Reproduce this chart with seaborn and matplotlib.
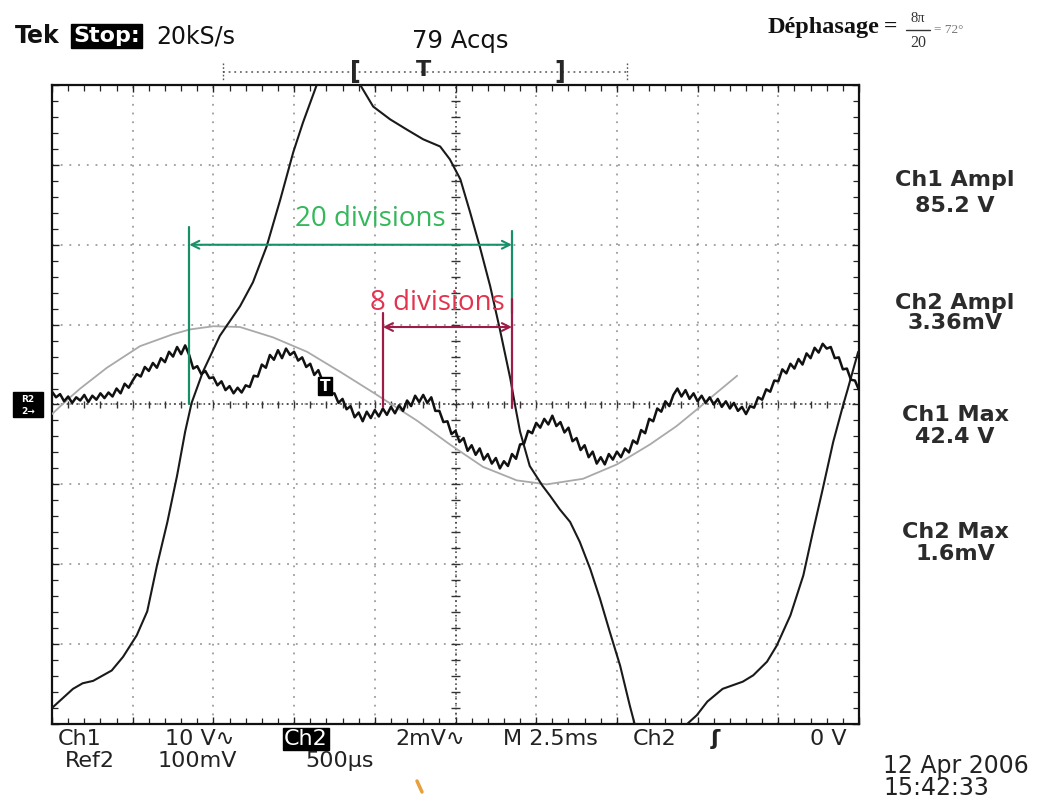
import numpy as np
import matplotlib
matplotlib.use("Agg")
import matplotlib.pyplot as plt
from matplotlib.patches import Rectangle
from matplotlib.lines import Line2D
import seaborn as sns

# Screen traces, in graticule divisions (x: 0..10 div, y: -4..+4 div around the centre line)
ch1_t = [0.01, 0.26, 0.38, 0.51, 0.74, 0.88, 1.05, 1.18, 1.30, 1.43, 1.55, 1.65, 1.73, 1.87,
         2.08, 2.33, 2.49, 2.66, 2.83, 2.99, 3.11, 3.28, 3.54, 3.82, 3.98, 4.19, 4.40, 4.60,
         4.81, 4.93, 5.06, 5.18, 5.30, 5.43, 5.55, 5.68, 5.74, 5.80, 5.92, 6.08, 6.17, 6.29,
         6.42, 6.54, 6.67, 6.79, 6.91, 7.04, 7.16, 7.22, 7.55, 7.87, 7.99, 8.12, 8.31, 8.56,
         8.69, 8.86, 8.98, 9.15, 9.31, 9.43, 9.55, 9.68, 9.80, 9.86, 9.99]
ch1_v = [-3.79, -3.56, -3.49, -3.46, -3.33, -3.16, -2.89, -2.59, -2.02, -1.47, -0.89, -0.34, 0.02,
         0.41, 0.86, 1.23, 1.53, 1.98, 2.57, 3.16, 3.53, 4.00, 4.50, 4.00, 3.73, 3.57, 3.44,
         3.32, 3.23, 3.07, 2.82, 2.41, 1.98, 1.48, 0.94, 0.32, -0.02, -0.34, -0.77, -1.02, -1.14,
         -1.31, -1.47, -1.72, -2.06, -2.43, -2.84, -3.27, -3.77, -4.00, -4.50, -4.00, -3.89,
         -3.72, -3.56, -3.47, -3.39, -3.22, -3.02, -2.64, -2.14, -1.59, -1.06, -0.47, -0.02,
         0.19, 0.66]

# Ch2 record: one sample every 0.05 div
ch2_t = np.round(np.arange(201) * 0.05, 2)
ch2_v = [0.16, 0.09, 0.13, 0.04, 0.10, 0.02, 0.09, 0.05, 0.12, 0.03, 0.11, 0.06, 0.14, 0.08, 0.15, 0.10, 0.20, 0.14, 0.26, 0.21,
         0.30, 0.38, 0.35, 0.47, 0.42, 0.52, 0.46, 0.58, 0.53, 0.66, 0.60, 0.72, 0.63, 0.74, 0.62, 0.45, 0.48, 0.38, 0.42, 0.33,
         0.34, 0.24, 0.29, 0.18, 0.23, 0.14, 0.21, 0.15, 0.24, 0.22, 0.36, 0.35, 0.50, 0.46, 0.62, 0.56, 0.68, 0.58, 0.70, 0.62,
         0.66, 0.55, 0.59, 0.47, 0.51, 0.37, 0.43, 0.30, 0.29, 0.13, 0.14, 0.02, 0.07, -0.06, -0.02, -0.16, -0.10, -0.21, -0.09, -0.17,
         -0.07, -0.15, -0.05, -0.13, -0.03, -0.11, -0.01, -0.08, 0.05, -0.02, 0.11, 0.03, 0.12, 0.02, 0.09, -0.08, -0.08, -0.22, -0.21, -0.37,
         -0.33, -0.47, -0.42, -0.58, -0.51, -0.63, -0.55, -0.69, -0.62, -0.74, -0.67, -0.80, -0.71, -0.77, -0.62, -0.68, -0.50, -0.49, -0.33, -0.36,
         -0.23, -0.29, -0.18, -0.25, -0.14, -0.27, -0.22, -0.35, -0.29, -0.46, -0.42, -0.57, -0.51, -0.66, -0.59, -0.74, -0.66, -0.75, -0.62, -0.69,
         -0.59, -0.66, -0.55, -0.60, -0.45, -0.49, -0.32, -0.36, -0.18, -0.21, -0.05, -0.09, 0.04, -0.02, 0.12, 0.20, 0.10, 0.18, 0.07, 0.14,
         0.04, 0.11, 0.02, 0.09, 0.00, 0.07, -0.03, 0.04, -0.05, 0.02, -0.08, -0.03, -0.12, -0.02, -0.04, 0.09, 0.06, 0.19, 0.16, 0.30,
         0.29, 0.44, 0.39, 0.51, 0.45, 0.57, 0.50, 0.64, 0.58, 0.71, 0.65, 0.76, 0.70, 0.72, 0.58, 0.59, 0.44, 0.45, 0.31, 0.30,
         0.18]

ref2_t = [0.00, 0.19, 0.35, 0.68, 1.09, 1.50, 1.71, 2.00, 2.33, 2.74, 3.16, 3.57, 3.98, 4.52,
          4.93, 5.34, 5.76, 6.13, 6.58, 7.00, 7.41, 7.74, 8.03, 8.12, 8.49]
ref2_v = [-0.12, 0.06, 0.20, 0.46, 0.73, 0.88, 0.94, 0.98, 0.97, 0.84, 0.66, 0.41, 0.15, -0.20,
          -0.50, -0.78, -0.95, -1.00, -0.93, -0.75, -0.50, -0.27, -0.03, 0.05, 0.36]

meas_names = ["Ch1 Ampl", "Ch2 Ampl", "Ch1 Max", "Ch2 Max"]
meas_values = ["85.2 V", "3.36mV", "42.4 V", "1.6mV"]

# Period / phase-shift markers (start, length in divisions)
period_start, period_len = 1.7, 4.0
shift_start, shift_len = 4.1, 1.6

W, H = 1046, 798
sns.set_theme(style="white")
plt.rcParams["font.family"] = ["DejaVu Sans"]

fig = plt.figure(figsize=(W / 100, H / 100), dpi=100)
fig.patch.set_facecolor("white")


def fx(px):
    return px / W


def fy(py):
    return 1 - py / H


ax = fig.add_axes([fx(52), fy(724), 807 / W, 639 / H])
ax.set_facecolor("white")

# Graticule
ax.set_xticks(np.arange(0, 11, 1))
ax.set_yticks(np.arange(-4, 5, 1))
ax.set_xticks(np.arange(0, 10.01, 0.2), minor=True)
ax.set_yticks(np.arange(-4, 4.01, 0.2), minor=True)
ax.tick_params(which="both", direction="in", top=True, right=True, bottom=True, left=True,
               labelbottom=False, labelleft=False, color="#222222")
ax.tick_params(which="major", length=5, width=1.0)
ax.tick_params(which="minor", length=4, width=0.9)
ax.grid(True, which="major", color="#8c8c8c", lw=1.1, ls=(0, (1.2, 4.5)))
for sp in ax.spines.values():
    sp.set_color("#111111")
    sp.set_linewidth(1.6)

ax.axhline(0, color="#333333", lw=1.1, ls=(0, (1, 2.2)), zorder=1)
ax.axvline(5, color="#333333", lw=1.1, ls=(0, (1, 2.2)), zorder=1)
ax.vlines(np.arange(0.2, 10, 0.2), -0.05, 0.05, color="#333333", lw=1.0, zorder=1)
ax.hlines(np.arange(-3.8, 4, 0.2), 4.95, 5.05, color="#333333", lw=1.0, zorder=1)

# Traces
sns.lineplot(x=ref2_t, y=ref2_v, ax=ax, color="#a9a9a9", lw=1.3, estimator=None, sort=False, zorder=3)
sns.lineplot(x=ch1_t, y=ch1_v, ax=ax, color="#1a1a1a", lw=1.5, estimator=None, sort=False, zorder=4)
sns.lineplot(x=ch2_t, y=ch2_v, ax=ax, color="#111111", lw=1.8, estimator=None, sort=False, zorder=4)

ax.set_xlim(0, 10)
ax.set_ylim(-4, 4)
ax.set_xlabel("")
ax.set_ylabel("")

# Period marker (green)
g_line, g_text = "#17906a", "#35b75a"
ax.plot([period_start, period_start], [0, 2.22], color=g_line, lw=1.6, zorder=5)
ax.plot([period_start + period_len] * 2, [1.15, 2.17], color=g_line, lw=1.6, zorder=5)
ax.annotate("", xy=(period_start, 2.0), xytext=(period_start + period_len, 2.0),
            arrowprops=dict(arrowstyle="<->", color=g_line, lw=1.5, mutation_scale=14,
                            shrinkA=0, shrinkB=0), zorder=5)
ax.text(period_start + period_len * 0.56, 2.32, "20 divisions", color=g_text, fontsize=20,
        family="Open Sans", ha="center", va="center", zorder=6)

# Phase-shift marker (red)
r_line, r_text = "#a01c48", "#e2334f"
ax.plot([shift_start, shift_start], [-0.03, 1.15], color=r_line, lw=1.6, zorder=5)
ax.plot([shift_start + shift_len] * 2, [-0.05, 1.32], color=r_line, lw=1.6, zorder=5)
ax.annotate("", xy=(shift_start, 0.97), xytext=(shift_start + shift_len, 0.97),
            arrowprops=dict(arrowstyle="<->", color=r_line, lw=1.5, mutation_scale=14,
                            shrinkA=0, shrinkB=0), zorder=5)
ax.text(shift_start + shift_len * 0.42, 1.27, "8 divisions", color=r_text, fontsize=20,
        family="Open Sans", ha="center", va="center", zorder=6)

# Trigger point marker
ax.text(3.38, 0.23, "T", color="white", fontsize=11, weight="bold", ha="center", va="center",
        bbox=dict(boxstyle="square,pad=0.12", fc="black", ec="black"), zorder=7)

# Ground / reference marker left of the screen
fig.add_artist(Rectangle((fx(13), fy(417)), 30 / W, 25 / H, transform=fig.transFigure,
                         fc="black", ec="black"))
fig.text(fx(28), fy(399), "R2", color="white", fontsize=6.5, weight="bold", ha="center", va="center")
fig.text(fx(28), fy(411), "2→", color="white", fontsize=6.5, weight="bold", ha="center", va="center")

# Header
fig.text(fx(15), fy(36), "Tek", fontsize=17, weight="bold", ha="left", va="center", color="#111111")
fig.text(fx(73), fy(36), "Stop:", fontsize=16, weight="bold", color="white", ha="left", va="center",
         bbox=dict(boxstyle="square,pad=0.1", fc="black", ec="black"))
fig.text(fx(156), fy(36), "20kS/s", fontsize=17, ha="left", va="center", color="#111111")
fig.text(fx(460), fy(41), "79 Acqs", fontsize=17.5, ha="center", va="center", color="#111111")

fig.add_artist(Line2D([fx(223), fx(627)], [fy(72), fy(72)], transform=fig.transFigure,
                      color="#555555", lw=1.1, ls=(0, (1.2, 2.5))))
for px in (223, 627):
    fig.add_artist(Line2D([fx(px), fx(px)], [fy(63), fy(81)], transform=fig.transFigure,
                          color="#555555", lw=1.0, ls=(0, (1.2, 1.5))))
fig.text(fx(355), fy(72), "[", fontsize=17, weight="bold", ha="center", va="center")
fig.text(fx(423), fy(70), "T", fontsize=16, weight="bold", ha="center", va="center")
fig.text(fx(560), fy(72), "]", fontsize=17, weight="bold", ha="center", va="center")

# Phase-shift formula, top right
fig.text(fx(768), fy(27), "Déphasage", family="Liberation Serif", weight="bold", fontsize=17.5,
         ha="left", va="center", color="#111111")
fig.text(fx(884), fy(27), "=", family="Liberation Serif", weight="bold", fontsize=17,
         ha="left", va="center", color="#111111")
fig.text(fx(918), fy(18), "8π", family="Liberation Serif", fontsize=10.5, ha="center", va="center",
         color="#333333")
fig.add_artist(Line2D([fx(906), fx(930)], [fy(30), fy(30)], transform=fig.transFigure,
                      color="#333333", lw=1.0))
fig.text(fx(918), fy(43), "20", family="Liberation Serif", fontsize=11.5, ha="center", va="center",
         color="#333333")
fig.text(fx(934), fy(30), "= 72°", family="Liberation Serif", fontsize=9.5, ha="left", va="center",
         color="#777777")

# Measurement readouts
meas_y = [(180, 206), (303, 323), (415, 437), (532, 554)]
for name, val, (y1, y2) in zip(meas_names, meas_values, meas_y):
    fig.text(fx(955), fy(y1), name, fontsize=16, weight="bold", ha="center", va="center", color="#2b2b2b")
    fig.text(fx(955), fy(y2), val, fontsize=16, weight="bold", ha="center", va="center", color="#2b2b2b")

# Channel settings under the screen
row1, row2 = 739, 761
bottom_fs = 16
fig.text(fx(80), fy(row1), "Ch1", fontsize=bottom_fs, ha="center", va="center", color="#222222")
fig.text(fx(200), fy(row1), "10 V∿", fontsize=bottom_fs, ha="center", va="center", color="#222222")
fig.text(fx(306), fy(row1), "Ch2", fontsize=bottom_fs, ha="center", va="center", color="white",
         bbox=dict(boxstyle="square,pad=0.05", fc="black", ec="black"))
fig.text(fx(430), fy(row1), "2mV∿", fontsize=bottom_fs, ha="center", va="center", color="#222222")
fig.text(fx(550), fy(row1), "M 2.5ms", fontsize=bottom_fs, ha="center", va="center", color="#222222")
fig.text(fx(655), fy(row1), "Ch2", fontsize=bottom_fs, ha="center", va="center", color="#222222")
fig.text(fx(715), fy(row1), "ʃ", fontsize=bottom_fs, weight="bold", ha="center", va="center", color="#222222")
fig.text(fx(828), fy(row1), "0 V", fontsize=bottom_fs, ha="center", va="center", color="#222222")
fig.text(fx(90), fy(row2), "Ref2", fontsize=bottom_fs, ha="center", va="center", color="#222222")
fig.text(fx(197), fy(row2), "100mV", fontsize=bottom_fs, ha="center", va="center", color="#222222")
fig.text(fx(340), fy(row2), "500µs", fontsize=bottom_fs, ha="center", va="center", color="#222222")

fig.text(fx(883), fy(766), "12 Apr 2006", fontsize=17, ha="left", va="center", color="#222222")
fig.text(fx(883), fy(788), "15:42:33", fontsize=17, ha="left", va="center", color="#222222")

# Small orange cursor mark below the screen
fig.add_artist(Line2D([fx(417), fx(422)], [fy(781), fy(792)], transform=fig.transFigure,
                      color="#e8a03c", lw=2.5))

fig.savefig("out.png", dpi=100, facecolor="white")
